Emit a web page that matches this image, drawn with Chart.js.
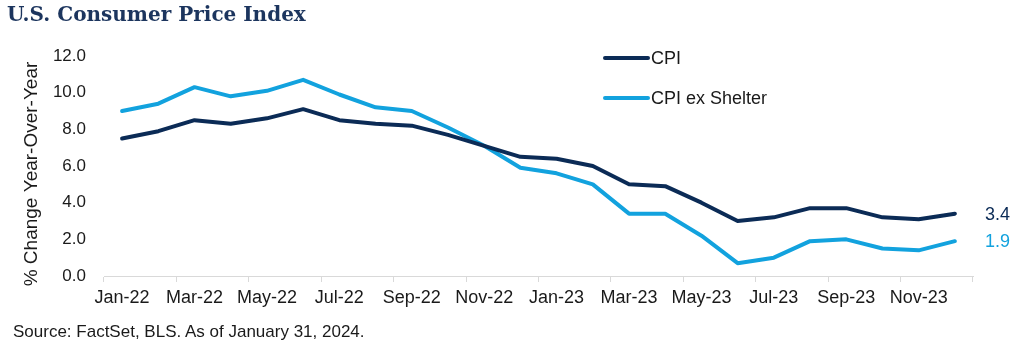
<!DOCTYPE html>
<html>
<head>
<meta charset="utf-8">
<script src="https://cdn.jsdelivr.net/npm/chart.js@4/dist/chart.umd.min.js"></script>
<style>
  html, body { margin: 0; padding: 0; background: #fff; }
  #wrap { position: relative; width: 1024px; height: 349px; overflow: hidden; }
  #c { position: absolute; left: 0; top: 0; }
  #title { position: absolute; left: 7px; top: 2px; line-height: 24px; font: bold 20px "DejaVu Serif", "Liberation Serif", serif; color: #1c355e; white-space: nowrap; }
  #source { position: absolute; left: 13px; top: 322px; line-height: 20px; font: 17px "Liberation Sans", Arial, sans-serif; color: #1a1a1a; white-space: nowrap; }
</style>
</head>
<body>
<div id="wrap">
  <canvas id="c" width="1024" height="349"></canvas>
  <div id="title">U.S. Consumer Price Index</div>
  <div id="source">Source: FactSet, BLS. As of January 31, 2024.</div>
</div>
<script>
const categories = ["Jan-22","Feb-22","Mar-22","Apr-22","May-22","Jun-22","Jul-22","Aug-22","Sep-22","Oct-22","Nov-22","Dec-22",
                    "Jan-23","Feb-23","Mar-23","Apr-23","May-23","Jun-23","Jul-23","Aug-23","Sep-23","Oct-23","Nov-23","Dec-23"];
const cpi = [7.5, 7.9, 8.5, 8.3, 8.6, 9.1, 8.5, 8.3, 8.2, 7.7, 7.1, 6.5,
             6.4, 6.0, 5.0, 4.9, 4.0, 3.0, 3.2, 3.7, 3.7, 3.2, 3.1, 3.4];
const cpiExShelter = [9.0, 9.4, 10.3, 9.8, 10.1, 10.7, 9.9, 9.2, 9.0, 8.1, 7.1, 5.9,
                      5.6, 5.0, 3.4, 3.4, 2.2, 0.7, 1.0, 1.9, 2.0, 1.5, 1.4, 1.9];
const seriesNames = ["CPI", "CPI ex Shelter"];
const endLabels = ["3.4", "1.9"];
const yTicks = [0, 2, 4, 6, 8, 10, 12];
const yTitle = "% Change Year-Over-Year";

const DARK = "#0b2b56";
const LIGHT = "#12a2de";
const FONT = '"Liberation Sans", Arial, sans-serif';

const legendPlugin = {
  id: "customLegend",
  afterDatasetsDraw(chart) {
    const ctx = chart.ctx;
    const x0 = 605, len = 43;
    const ys = [58, 98];
    ctx.save();
    chart.data.datasets.forEach((ds, i) => {
      ctx.strokeStyle = ds.borderColor;
      ctx.lineWidth = 4;
      ctx.lineCap = "round";
      ctx.beginPath();
      ctx.moveTo(x0, ys[i]);
      ctx.lineTo(x0 + len, ys[i]);
      ctx.stroke();
      ctx.fillStyle = "#1a1a1a";
      ctx.font = "18px " + FONT;
      ctx.textBaseline = "middle";
      ctx.textAlign = "left";
      ctx.fillText(ds.label, x0 + len + 3, ys[i] + 1);
    });
    ctx.restore();
  }
};

const endLabelPlugin = {
  id: "endLabels",
  afterDatasetsDraw(chart) {
    const ctx = chart.ctx;
    ctx.save();
    ctx.font = "18px " + FONT;
    ctx.textBaseline = "middle";
    ctx.textAlign = "left";
    chart.data.datasets.forEach((ds, i) => {
      const meta = chart.getDatasetMeta(i);
      const pt = meta.data[meta.data.length - 1];
      ctx.fillStyle = ds.borderColor;
      ctx.fillText(endLabels[i], pt.x + 30, pt.y + 1);
    });
    ctx.restore();
  }
};

const yTitlePlugin = {
  id: "yTitle",
  afterDraw(chart) {
    const ctx = chart.ctx;
    const area = chart.chartArea;
    ctx.save();
    ctx.translate(32, (area.top + area.bottom) / 2 + 8);
    ctx.rotate(-Math.PI / 2);
    ctx.font = "19px " + FONT;
    ctx.fillStyle = "#1a1a1a";
    ctx.textAlign = "center";
    ctx.textBaseline = "middle";
    ctx.fillText(yTitle, 0, 0);
    ctx.restore();
  }
};

new Chart(document.getElementById("c"), {
  type: "line",
  data: {
    labels: categories,
    datasets: [
      { label: seriesNames[0], data: cpi, borderColor: DARK, backgroundColor: DARK, borderWidth: 4, pointRadius: 0, tension: 0, borderJoinStyle: "round", borderCapStyle: "round" },
      { label: seriesNames[1], data: cpiExShelter, borderColor: LIGHT, backgroundColor: LIGHT, borderWidth: 4, pointRadius: 0, tension: 0, borderJoinStyle: "round", borderCapStyle: "round" }
    ]
  },
  options: {
    responsive: false,
    animation: false,
    layout: { padding: { left: 0, right: 51, top: 56, bottom: 0 } },
    plugins: { legend: { display: false }, tooltip: { enabled: false } },
    scales: {
      x: {
        offset: true,
        grid: {
          offset: true,
          drawOnChartArea: false,
          drawTicks: true,
          tickLength: 6,
          color: (c) => (c.index === undefined || c.index % 2 === 0) ? "#d9d9d9" : "rgba(0,0,0,0)",
          lineWidth: 1
        },
        border: { display: true, color: "#d9d9d9", width: 1 },
        ticks: {
          autoSkip: false,
          maxRotation: 0,
          minRotation: 0,
          padding: 5,
          color: "#1a1a1a",
          font: { family: FONT, size: 18 },
          callback: function(v, i) { return i % 2 === 0 ? categories[i] : ""; }
        },
        afterFit(scale) { scale.height = 73; }
      },
      y: {
        min: 0,
        max: 12,
        grid: { display: false, drawTicks: false },
        border: { display: false },
        afterBuildTicks(scale) { scale.ticks = yTicks.map(v => ({ value: v })); },
        ticks: {
          padding: 18,
          color: "#1a1a1a",
          font: { family: FONT, size: 17 },
          callback: (v) => Number(v).toFixed(1)
        },
        title: { display: false },
        afterFit(scale) { scale.width = 104; }
      }
    }
  },
  plugins: [legendPlugin, endLabelPlugin, yTitlePlugin]
});
</script>
</body>
</html>
